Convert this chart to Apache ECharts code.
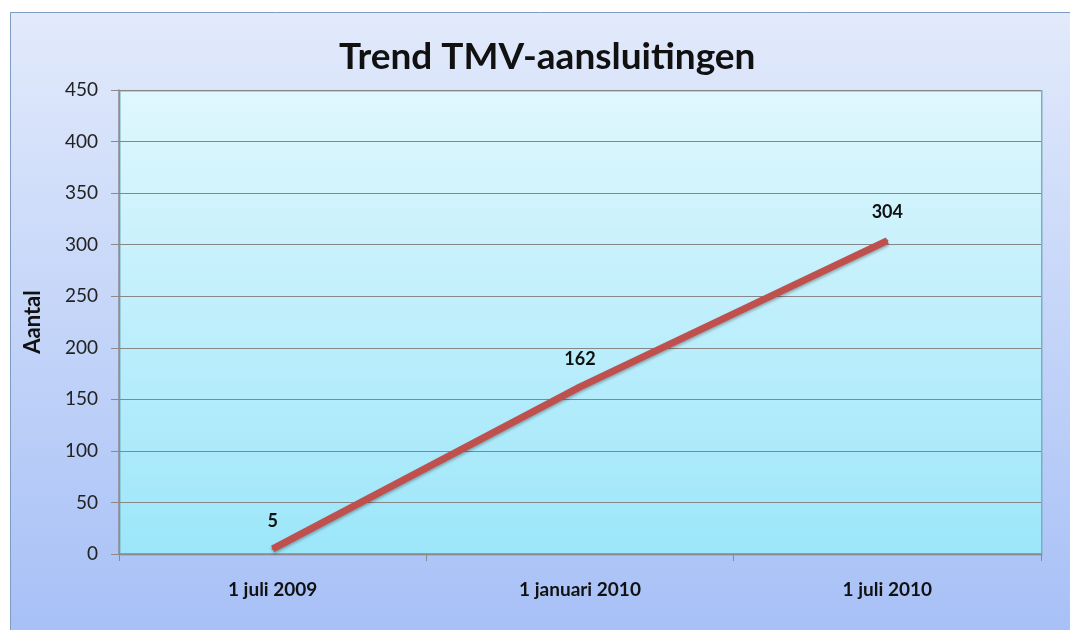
<!DOCTYPE html>
<html>
<head>
<meta charset="utf-8">
<script src="https://cdn.jsdelivr.net/npm/echarts@6/dist/echarts.min.js"></script>
<style>
  html, body { margin: 0; padding: 0; background: #fff; overflow: hidden; }
  #chart { width: 1070px; height: 630px; }
</style>
</head>
<body>
<div id="chart"></div>
<script>
// data
const categories = ['1 juli 2009', '1 januari 2010', '1 juli 2010'];
const aantal = [5, 162, 304];
const yTicks = { min: 0, max: 450, step: 50 };

const chart = echarts.init(document.getElementById('chart'));

const font = 'Lato, "Open Sans", sans-serif';

const option = {
    backgroundColor: '#ffffff',
    graphic: [{
        type: 'rect',
        left: 10,
        top: 12,
        z: -10,
        shape: { width: 1060, height: 618 },
        style: {
            fill: new echarts.graphic.LinearGradient(0, 0, 0, 1, [
                { offset: 0, color: '#e2eafb' },
                { offset: 1, color: '#a7c0f6' }
            ])
        }
    }, {
        type: 'polyline',
        z: -9,
        shape: { points: [[10.5, 630], [10.5, 12.5], [1070, 12.5]] },
        style: { stroke: '#7c9cc2', lineWidth: 1, fill: null }
    }, {
        type: 'rect',
        left: 119,
        top: 90,
        z: -5,
        shape: { width: 922, height: 464 },
        style: {
            fill: new echarts.graphic.LinearGradient(0, 0, 0, 1, [
                { offset: 0, color: '#e0f7fd' },
                { offset: 1, color: '#9ce6fa' }
            ]),
            stroke: '#7aaec4',
            lineWidth: 1.5
        }
    }],
    title: {
        text: 'Trend TMV-aansluitingen',
        left: 334,
        top: 34,
        textStyle: {
            fontFamily: font,
            fontWeight: 'bold',
            fontSize: 37,
            color: '#111'
        }
    },
    grid: { left: 119, top: 90, right: 29, bottom: 76 },
    xAxis: {
        type: 'category',
        data: categories,
        boundaryGap: true,
        axisLine: { lineStyle: { color: '#8a8a8a', width: 1.5 } },
        axisTick: { show: true, length: 7, lineStyle: { color: '#8a8a8a' } },
        axisLabel: {
            margin: 26,
            fontFamily: font,
            fontWeight: 'bold',
            fontSize: 19,
            color: '#111'
        }
    },
    yAxis: {
        type: 'value',
        name: 'Aantal',
        nameLocation: 'middle',
        nameGap: 75,
        nameTextStyle: {
            fontFamily: font,
            fontWeight: 'bold',
            fontSize: 22,
            color: '#111'
        },
        min: yTicks.min,
        max: yTicks.max,
        interval: yTicks.step,
        axisLine: { show: true, lineStyle: { color: '#8a8a8a', width: 1.5 } },
        axisTick: { show: true, length: 8, lineStyle: { color: '#8a8a8a' } },
        axisLabel: {
            margin: 21,
            fontFamily: font,
            fontSize: 19,
            color: '#222'
        },
        splitLine: { lineStyle: { color: '#878787', width: 1 } }
    },
    series: [{
        name: 'Aantal',
        type: 'line',
        data: aantal,
        symbol: 'circle',
        symbolSize: 2,
        showSymbol: true,
        itemStyle: { color: '#c0504d', borderWidth: 0 },
        lineStyle: {
            color: '#c0504d',
            width: 7,
            shadowColor: 'rgba(0,0,0,0.3)',
            shadowBlur: 3,
            shadowOffsetY: 2
        },
        label: {
            show: true,
            position: 'top',
            distance: 18,
            fontFamily: font,
            fontWeight: 'bold',
            fontSize: 18,
            color: '#111'
        }
    }]
};

chart.setOption(option);
</script>
</body>
</html>
